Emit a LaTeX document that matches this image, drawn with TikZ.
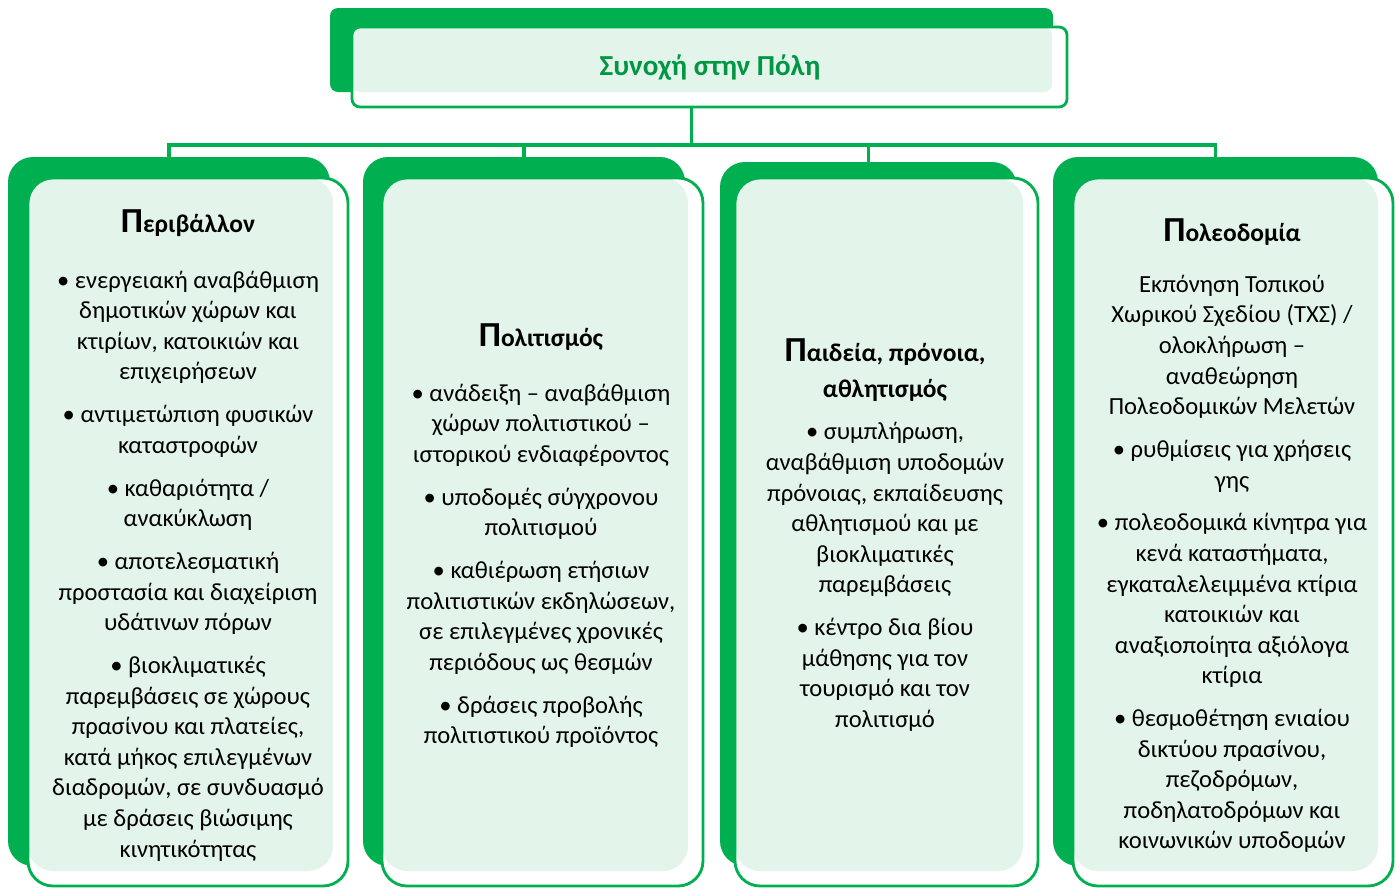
\documentclass[tikz,border=0pt]{standalone}
\usepackage{fontspec}
\setmainfont{Carlito}
\usetikzlibrary{positioning,fit,backgrounds}
\definecolor{cohgreen}{RGB}{0,176,80}
\definecolor{paleleaf}{RGB}{227,245,235}
\newcommand{\bodysize}{\fontsize{14}{17.4}\selectfont}
\newcommand{\bigini}[2]{{\fontsize{20}{20}\selectfont #1}#2}

\begin{document}
\begin{tikzpicture}[
    x=0.02cm, y=-0.02cm,
    backbox/.style={fill=cohgreen, draw=none, rounded corners=#1, inner sep=0pt},
    frontbox/.style={fill=white, draw=cohgreen, line width=1.6pt, rounded corners=#1, inner sep=0pt,
        path picture={\fill[paleleaf, rounded corners=#1] (path picture bounding box.north west) rectangle ([xshift=-0.3cm, yshift=0.3cm]path picture bounding box.south east);}},
    headtext/.style={font=\bfseries\fontsize{16.5}{19}\selectfont, text=cohgreen!85!black},
    coltitle/.style={font=\bfseries\fontsize{14.5}{20.5}\selectfont, align=center, inner sep=0pt},
    bodytext/.style={font=\bodysize, align=center, inner sep=0pt},
    link/.style={draw=cohgreen, line width=1.8pt}
]
    \useasboundingbox (0,0) rectangle (1397,889);

    % top box
    \node[backbox=0.16cm, fit={(330,8) (1053,92)}] (headback) {};
    \node[frontbox=0.16cm, fit={(352,27) (1067,107)}] (headfront) {};
    \node[headtext] (head) at (710,68) {Συνοχή στην Πόλη};

    % column boxes
    \node[backbox=0.5cm, fit={(8,157) (330,866)}] (back1) {};
    \node[frontbox=0.5cm, fit={(28,178) (348,886)}] (front1) {};
    \node[backbox=0.5cm, fit={(363,157) (685,866)}] (back2) {};
    \node[frontbox=0.5cm, fit={(382,178) (703,886)}] (front2) {};
    \node[backbox=0.5cm, fit={(720,162) (1017,866)}] (back3) {};
    \node[frontbox=0.5cm, fit={(735,178) (1038,886)}] (front3) {};
    \node[backbox=0.5cm, fit={(1053,157) (1378,866)}] (back4) {};
    \node[frontbox=0.5cm, fit={(1073,178) (1393,886)}] (front4) {};

    \begin{scope}[on background layer]
        \coordinate (bus) at (691.5,145);
        \draw[link] (headback.south) -- (bus);
        \draw[link] (bus) -| (back1.north);
        \draw[link] (bus) -| (back2.north);
        \draw[link] (bus) -| (back3.north);
        \draw[link] (bus) -| (back4.north);
    \end{scope}

    % Περιβάλλον
    \node[coltitle] (env) at (188,223) {\bigini{Π}{εριβάλλον}};
    \node[bodytext] (envtext) at (188,566) {\textbullet\ ενεργειακή αναβάθμιση\\ δημοτικών χώρων και\\ κτιρίων, κατοικιών και\\ επιχειρήσεων\\[7pt]
        \textbullet\ αντιμετώπιση φυσικών\\ καταστροφών\\[7pt]
        \textbullet\ καθαριότητα /\\ ανακύκλωση\\[7pt]
        \textbullet\ αποτελεσματική\\ προστασία και διαχείριση\\ υδάτινων πόρων\\[7pt]
        \textbullet\ βιοκλιματικές\\ παρεμβάσεις σε χώρους\\ πρασίνου και πλατείες,\\ κατά μήκος επιλεγμένων\\ διαδρομών, σε συνδυασμό\\ με δράσεις βιώσιμης\\ κινητικότητας};

    % Πολιτισμός
    \node[coltitle] (cult) at (541,337) {\bigini{Π}{ολιτισμός}};
    \node[bodytext] (culttext) at (541,566) {\textbullet\ ανάδειξη – αναβάθμιση\\ χώρων πολιτιστικού –\\ ιστορικού ενδιαφέροντος\\[7pt]
        \textbullet\ υποδομές σύγχρονου\\ πολιτισμού\\[7pt]
        \textbullet\ καθιέρωση ετήσιων\\ πολιτιστικών εκδηλώσεων,\\ σε επιλεγμένες χρονικές\\ περιόδους ως θεσμών\\[7pt]
        \textbullet\ δράσεις προβολής\\ πολιτιστικού προϊόντος};

    % Παιδεία
    \node[coltitle] (edu) at (885,370) {\bigini{Π}{αιδεία, πρόνοια,}\\ αθλητισμός};
    \node[bodytext] (edutext) at (885,577) {\textbullet\ συμπλήρωση,\\ αναβάθμιση υποδομών\\ πρόνοιας, εκπαίδευσης\\ αθλητισμού και με\\ βιοκλιματικές\\ παρεμβάσεις\\[7pt]
        \textbullet\ κέντρο δια βίου\\ μάθησης για τον\\ τουρισμό και τον\\ πολιτισμό};

    % Πολεοδομία
    \node[coltitle] (plan) at (1232,232) {\bigini{Π}{ολεοδομία}};
    \node[bodytext] (plantext) at (1232,564) {Εκπόνηση Τοπικού\\ Χωρικού Σχεδίου (ΤΧΣ) /\\ ολοκλήρωση –\\ αναθεώρηση\\ Πολεοδομικών Μελετών\\[7pt]
        \textbullet\ ρυθμίσεις για χρήσεις\\ γης\\[7pt]
        \textbullet\ πολεοδομικά κίνητρα για\\ κενά καταστήματα,\\ εγκαταλελειμμένα κτίρια\\ κατοικιών και\\ αναξιοποίητα αξιόλογα\\ κτίρια\\[7pt]
        \textbullet\ θεσμοθέτηση ενιαίου\\ δικτύου πρασίνου,\\ πεζοδρόμων,\\ ποδηλατοδρόμων και\\ κοινωνικών υποδομών};
\end{tikzpicture}
\end{document}
